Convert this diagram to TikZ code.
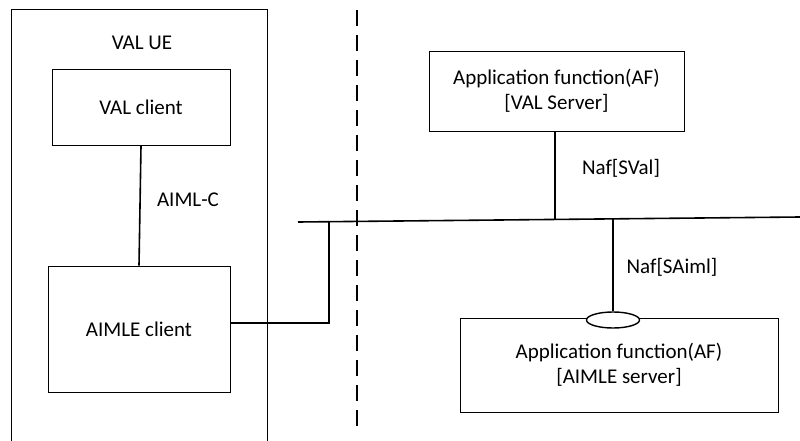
\documentclass[tikz,border=0pt]{standalone}
\usepackage{fontspec}
\setmainfont{Carlito}
\usetikzlibrary{shapes.geometric,calc}
\begin{document}
\begin{tikzpicture}[x=1pt,y=-1pt,
  box/.style={draw,line width=0.8pt,rectangle,inner sep=0pt,align=center,font=\fontsize{21}{25}\selectfont},
  lbl/.style={font=\fontsize{21}{25}\selectfont,inner sep=0pt},
  conn/.style={line width=1.6pt}]
\useasboundingbox (0,0) rectangle (800,441);
% VAL UE frame (open at bottom)
\draw[line width=0.8pt] (11,441) -- (11,9) -- (267,9) -- (267,441);
\node[lbl] (uetitle) at (142,43) {VAL UE};
\node[box,minimum width=178pt,minimum height=76pt] (valc) at (141,107.5) {VAL client};
\node[box,minimum width=182pt,minimum height=126pt] (aimlec) at (139,329) {AIMLE client};
\node[box,minimum width=255pt,minimum height=80pt] (afval) at (556.5,91) {Application function(AF)\\{}[VAL Server]};
\node[box,minimum width=318pt,minimum height=94pt] (afaiml) at (619,365) {Application function(AF)\\{}[AIMLE server]};
\node[draw,line width=1.4pt,ellipse,fill=white,minimum width=53pt,minimum height=16pt,inner sep=0pt] (ell) at (613,320) {};
% bus
\coordinate (busL) at (298,222);
\coordinate (busR) at (800,217);
\coordinate (j1) at (329,221.7);
\coordinate (j2) at (555,219.4);
\coordinate (j3) at (613,218.9);
\draw[conn] (busL) -- (busR);
% dashed separator
\coordinate (dtop) at (357,10);
\coordinate (dbot) at (357,434);
\draw[line width=1.6pt,dash pattern=on 16pt off 9pt] (dtop) -- (dbot);
% connectors
\draw[conn] (valc.south) -- (aimlec.north);
\node[lbl] (aimlc) at (188,200) {AIML-C};
\draw[conn] ([yshift=6pt]aimlec.east) -| (j1);
\draw[conn] (afval.south -| j2) -- (j2);
\node[lbl] (nafsval) at (621,168) {Naf[SVal]};
\draw[conn] (j3) -- (ell.north);
\node[lbl] (nafsaiml) at (672,267) {Naf[SAiml]};
\end{tikzpicture}
\end{document}
